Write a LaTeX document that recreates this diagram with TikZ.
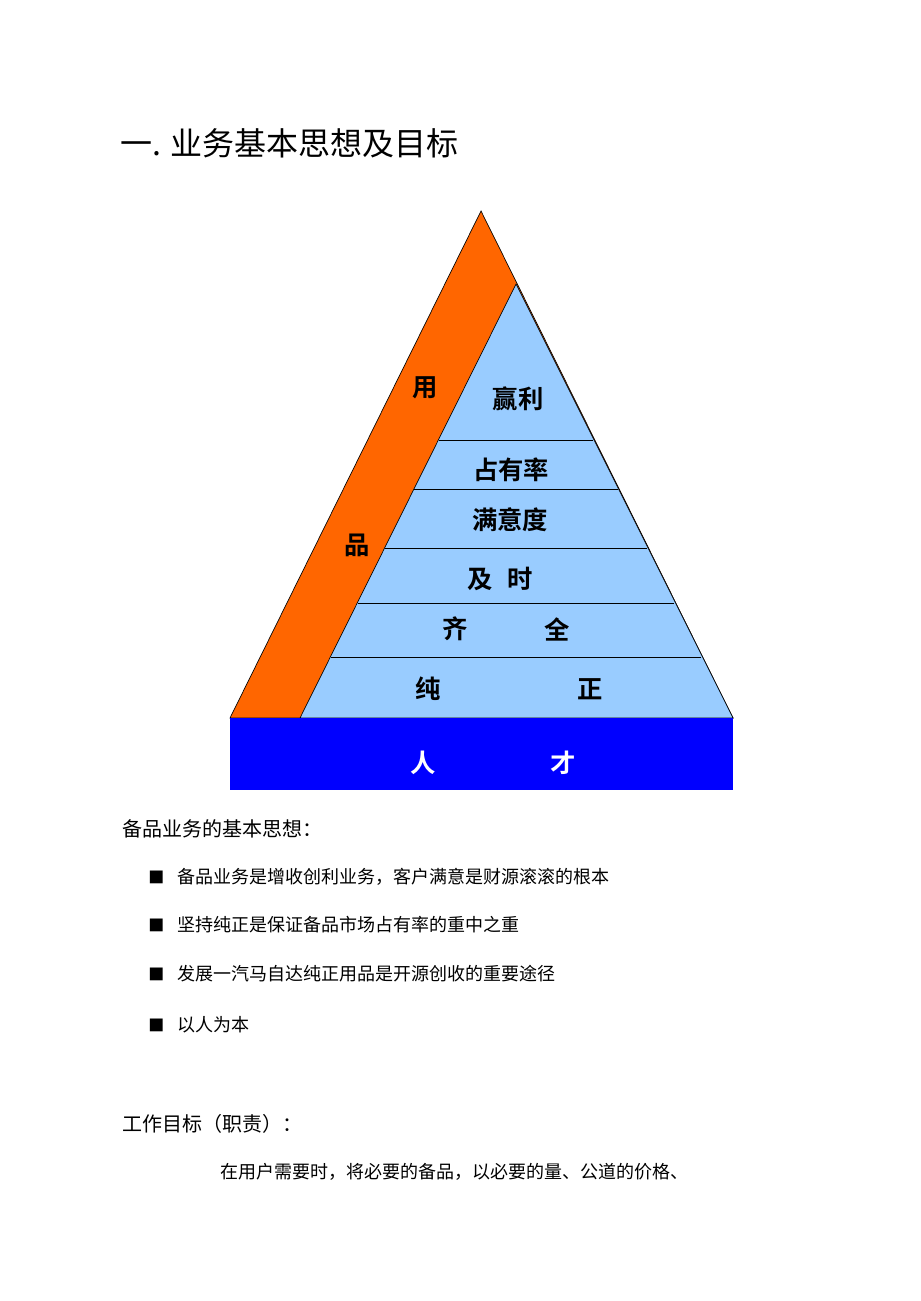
\documentclass[tikz,border=0pt]{standalone}
\usepackage{fontspec}
\newfontfamily\cjk{Noto Sans CJK SC}
\newfontfamily\cjkb{Noto Sans CJK SC Bold}
\definecolor{org}{HTML}{FF6600}
\definecolor{lb}{HTML}{99CCFF}
\definecolor{db}{HTML}{0000FF}
\begin{document}
\begin{tikzpicture}[x=0.75pt,y=-0.75pt,
  lab/.style={font=\cjkb\fontsize{19}{19}\selectfont,inner sep=0},
  body/.style={font=\cjk\fontsize{13.5}{14}\selectfont,anchor=west,inner sep=0},
  bul/.style={font=\cjk\fontsize{12}{12}\selectfont,anchor=west,inner sep=0}]
\useasboundingbox (0,0) rectangle (920,1301);
\node[anchor=west,inner sep=0,font=\cjk\fontsize{24}{24}\selectfont] (title) at (120,143) {一. 业务基本思想及目标};
\coordinate (A) at (481,211);
\coordinate (L) at (230,718);
\coordinate (R) at (733,718);
\coordinate (B) at (516,284);
\coordinate (BL) at (300,718);
\fill[org,draw=black,line width=0.5pt] (A) -- (L) -- (R) -- cycle;
\fill[lb,draw=black,line width=0.5pt] (B) -- (BL) -- (R) -- cycle;
\foreach \y in {440,489,548,603,657}{
  \draw[line width=0.6pt] ({516-0.4966*(\y-284)},\y) -- ({516+0.4966*(\y-284)},\y);
}
\fill[db] (230,718) rectangle (733,790);
\node[lab] (yong) at (425,388) {用};
\node[lab] (pin) at (357,545) {品};
\node[lab] (yl) at (518,399) {赢利};
\node[lab] (zyl) at (511,470) {占有率};
\node[lab] (myd) at (510,520) {满意度};
\node[lab] (jis) at (500,579) {及\hspace{0.6em}时};
\node[lab] (qi) at (455,629) {齐};
\node[lab] (quan) at (557,629) {全};
\node[lab] (chun) at (428,689) {纯};
\node[lab] (zheng) at (590,689) {正};
\node[lab,text=white] (ren) at (423,763) {人};
\node[lab,text=white] (cai) at (563,763) {才};
\node[body,font=\cjk\fontsize{15}{15}\selectfont] (h1) at (122,829) {备品业务的基本思想：};
\foreach \yy/\t [count=\i] in {877/备品业务是增收创利业务，客户满意是财源滚滚的根本,925/坚持纯正是保证备品市场占有率的重中之重,974/发展一汽马自达纯正用品是开源创收的重要途径,1025/以人为本}{
  \node[bul] (b\i) at (148,\yy) {■};
  \node[body] (t\i) at (177,\yy) {\t};
}
\node[body,font=\cjk\fontsize{15}{15}\selectfont] (h2) at (122,1124) {工作目标（职责）：};
\node[body] (last) at (220,1172) {在用户需要时，将必要的备品，以必要的量、公道的价格、};
\end{tikzpicture}
\end{document}
